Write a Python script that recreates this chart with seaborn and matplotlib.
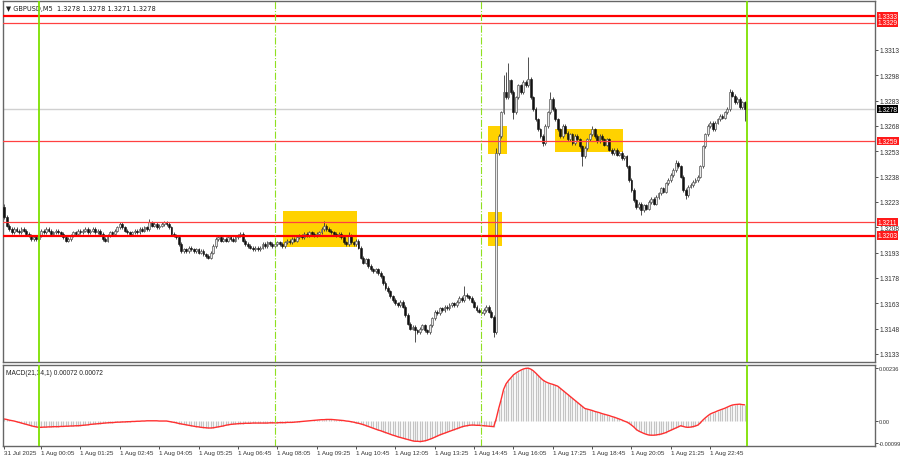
import numpy as np
import pandas as pd
import matplotlib
matplotlib.use("Agg")
import matplotlib.pyplot as plt
import matplotlib.transforms as mtransforms
import seaborn as sns

# GBPUSD M5, closes in pips above 1.3000, one value per bar (31 Jul 22:50 .. 1 Aug 23:55)
closes = [
    214, 209, 207, 205, 207, 206, 205, 207, 206, 204, 203, 201, 202, 201,
    203, 206, 205, 207, 206, 204, 205, 206, 205, 204, 202, 200, 201, 203, 205, 204,
    206, 205, 206, 207, 205, 206, 207, 205, 206, 204, 201, 200, 203, 205, 204,
    206, 208, 210, 208, 206, 205, 204, 205, 206, 205, 207, 206, 208, 207,
    211, 209, 210, 208, 209, 210, 211, 210, 208, 204, 203, 202,
    198, 194, 195, 194, 196, 195, 194, 195, 193, 194, 192, 191, 190, 193, 197, 201, 202, 200,
    201, 200, 202, 201, 200, 202, 203, 204, 200, 198, 197, 196, 195, 196, 195, 196,
    198, 197, 199, 198, 197, 198, 199, 198, 197, 199, 200, 199, 201, 200, 202, 203, 202,
    204, 203, 205, 204, 203, 204, 205, 207, 209, 207, 206, 205, 204, 203, 204, 202, 199, 198, 203, 199, 198, 200,
    196, 190, 187, 189, 185, 183, 182, 183, 181, 179, 175, 172, 170, 167, 165, 163, 162, 164, 161,
    156, 151, 148, 149, 147, 146, 148, 150, 147, 146, 150, 154, 158, 157, 160, 159,
    161, 160, 162, 163, 162, 164, 166, 165, 168, 167, 166, 164, 161, 159, 158, 157, 159, 161, 158, 155, 146,
    252, 262, 276, 288, 285, 295, 288, 276, 285, 292, 288, 294, 292, 296, 285, 278, 272, 266, 262, 258,
    268, 276, 284, 278, 272, 266, 262, 268, 264, 260, 263, 258, 262, 260, 256, 250, 255, 260, 263, 266,
    262, 259, 262, 260, 257, 260, 254, 252, 254, 251, 252, 249, 250, 244, 236, 230, 224, 220, 222, 218,
    221, 219, 223, 225, 222, 226, 228, 231, 229, 234, 236, 239, 242, 246, 244, 238, 230, 227, 232, 233, 235, 236, 238,
    244, 256, 263, 268, 270, 266, 270, 272, 274, 273, 276, 278, 288, 286, 282, 284, 279, 282, 278,
]
first_open = 220
# bars whose wicks stick out further (pips above 1.3000)
high_spikes = {0: 222, 47: 211, 59: 213, 66: 212, 130: 212, 140: 205, 187: 173,
               200: 255, 203: 298, 204: 300, 205: 305, 213: 309, 222: 288,
               239: 268, 273: 248, 295: 290}
low_spikes = {83: 189, 167: 140, 199: 143, 207: 272, 219: 256, 235: 244,
              259: 215, 277: 225, 301: 271}

# MACD(21,34,1) per bar, units of 0.00001
macd = [
    9, 7, 4, 2, 0, -3, -6, -9, -12, -15, -18, -21, -24, -26, -28,
    -28, -27, -27, -26, -26, -25, -25, -25, -24, -24, -23, -23, -22, -22, -21, -21,
    -20, -19, -18, -17, -15, -14, -13, -12, -11, -10, -9, -8, -7, -7, -6,
    -5, -5, -4, -4, -3, -3, -2, -2, -1, -1, 0, 0,
    1, 1, 1, 1, 1, 0, 0, 0, 0,
    -2, -4, -6, -8, -11, -13, -15, -17, -19, -21, -23, -25, -26, -28, -29, -30, -31, -31,
    -30, -28, -26, -24, -22, -19, -17, -15, -14, -13, -12, -11, -11, -10,
    -10, -10, -9, -9, -9, -9, -9, -9, -9, -8, -8, -8, -8, -7, -7, -7, -6, -6, -6,
    -5, -4, -3, -2, -1, 0, 1, 2, 3, 4, 5, 6, 6, 7, 7, 7,
    6, 5, 4, 3, 2, 0, -1, -3, -5, -8, -10, -13,
    -16, -20, -24, -28, -32, -36, -40, -43, -47, -51, -55, -59, -63, -66, -70, -73, -76, -79, -82, -85, -88, -90,
    -90, -91, -90, -88, -85, -81, -77, -72, -67, -62, -58,
    -54, -50, -46, -42, -38, -34, -30, -26,
    -23, -21, -19, -18, -18, -19, -19, -20, -21, -22, -23, -24, -25,
    10, 55, 95, 140, 165, 180, 192, 205, 213, 220, 226, 231, 234, 235,
    231, 224, 214, 203, 192, 182, 175, 170, 166, 163, 159, 155,
    146, 137, 128, 119, 110, 101, 92, 83, 74, 65, 56, 53, 50, 47,
    43, 40, 37, 33, 30, 27, 24, 20, 17, 13, 9, 5, 0, -4, -10,
    -18, -27, -38, -45, -50, -55, -59, -62, -63, -63, -62, -60, -58,
    -55, -51, -46, -41, -36, -31, -26, -21, -24, -27, -28, -27, -25, -22, -18,
    -8, 4, 14, 23, 31, 36, 40, 45, 49, 53, 57, 62, 67, 71, 73, 74, 75, 73, 72,
]

levels_thick = [1.3333, 1.3203]
levels_thin = [1.3329, 1.3259, 1.3211]
price_now = 1.3278
price_ticks = [1.3313, 1.3298, 1.3283, 1.3268, 1.3253, 1.3238, 1.3223, 1.3208,
               1.3193, 1.3178, 1.3163, 1.3148, 1.3133]
macd_ticks = [0.00236, 0.0, -0.00099]
macd_tick_labels = ["0.00236", "0.00", "-0.00099"]
time_bars = [0, 15, 31, 47, 63, 79, 95, 111, 127, 143, 159, 175, 191, 207, 223, 239, 255, 271, 287]
time_labels = ["31 Jul 2025", "1 Aug 00:05", "1 Aug 01:25", "1 Aug 02:45", "1 Aug 04:05",
               "1 Aug 05:25", "1 Aug 06:45", "1 Aug 08:05", "1 Aug 09:25", "1 Aug 10:45",
               "1 Aug 12:05", "1 Aug 13:25", "1 Aug 14:45", "1 Aug 16:05", "1 Aug 17:25",
               "1 Aug 18:45", "1 Aug 20:05", "1 Aug 21:25", "1 Aug 22:45"]
day_bars = [14, 302]
session_bars = [110, 194]
# highlighted zones: (bar from, bar to, price low, price high)
zones = [(113.4, 143.5, 1.31963, 1.32176),
         (196.7, 204.5, 1.32514, 1.32680),
         (196.7, 202.4, 1.31969, 1.32170),
         (224.0, 251.6, 1.32526, 1.32662)]

sns.set_style("white")
plt.rcParams["font.family"] = ["Liberation Sans", "DejaVu Sans"]

c = np.array(closes) / 10000 + 1.3
o = np.concatenate([[first_open / 10000 + 1.3], c[:-1]])
h = np.maximum(o, c) + 0.0001
l = np.minimum(o, c) - 0.0001
for k, v in high_spikes.items():
    h[k] = v / 10000 + 1.3
for k, v in low_spikes.items():
    l[k] = v / 10000 + 1.3
df = pd.DataFrame({"open": o, "high": h, "low": l, "close": c})
df["bar"] = np.arange(len(df))
md = pd.DataFrame({"bar": np.arange(len(macd)), "macd": np.array(macd) / 100000})

fig = plt.figure(figsize=(9, 4.6), dpi=100)
ax = fig.add_axes([3 / 900, 97 / 460, 872 / 900, 361 / 460])
ax2 = fig.add_axes([3 / 900, 13 / 460, 872 / 900, 81 / 460])

# zones under candles
for x0, x1, y0, y1 in zones:
    ax.fill_between([x0, x1], y0, y1, color="#ffd200", lw=0, zorder=1)

ax.axhline(price_now, color="#d0d0d0", lw=1, zorder=1.5)
for lv in levels_thin:
    ax.axhline(lv, color="#ff4040", lw=0.9, zorder=4)
for lv in levels_thick:
    ax.axhline(lv, color="#ff0000", lw=1.6, zorder=4)

# candles
bull = df[df.close >= df.open]
bear = df[df.close < df.open]
ax.vlines(df.bar, df.low, df.high, color="#333333", lw=0.6, zorder=2)
ax.bar(bull.bar, np.maximum(bull.close - bull.open, 0.00003), bottom=bull.open, width=0.75,
       color="#e8e8e8", edgecolor="#5a5a5a", linewidth=0.5, zorder=3)
ax.bar(bear.bar, bear.open - bear.close, bottom=bear.close, width=0.75,
       color="#111111", edgecolor="#111111", linewidth=0.4, zorder=3)

# MACD panel
ax2.vlines(md.bar, 0, md.macd, color="#c4c4c4", lw=0.9)
sns.lineplot(data=md, x="bar", y="macd", ax=ax2, color="#ff3030", lw=1)

for a in (ax, ax2):
    for b in day_bars:
        a.axvline(b, color="#7ee000", lw=1.3, zorder=5)
    for b in session_bars:
        a.axvline(b, color="#8fe020", lw=0.8, ls="-.", zorder=5)
    a.set_xlim(-0.5, 354)
    for s in a.spines.values():
        s.set_color("#666666")
        s.set_linewidth(1)
    a.set_xlabel("")
    a.set_ylabel("")

ax.set_ylim(1.31282, 1.33420)
ax.yaxis.tick_right()
ax.set_yticks(price_ticks)
ax.set_yticklabels([f"{t:.4f}" for t in price_ticks])
ax.set_xticks([])
ax.tick_params(axis="y", labelsize=4.8, length=2, width=0.6, colors="#333333", pad=1, right=True)

ax2.set_ylim(-0.00111, 0.00249)
ax2.yaxis.tick_right()
ax2.set_yticks(macd_ticks)
ax2.set_yticklabels(macd_tick_labels)
ax2.tick_params(axis="y", labelsize=4.1, length=2, width=0.6, colors="#333333", pad=1, right=True)
ax2.set_xticks(time_bars)
ax2.set_xticklabels(time_labels, ha="left")
ax2.tick_params(axis="x", labelsize=4.5, length=2, width=0.6, colors="#333333", pad=1, bottom=True)

# price tags on the right scale
tr = mtransforms.blended_transform_factory(ax.transAxes, ax.transData)
for lv in levels_thin + levels_thick:
    ax.text(1.003, lv, f"{lv:.4f}", transform=tr, fontsize=4.8, color="white", va="center",
            ha="left", bbox=dict(boxstyle="square,pad=0.12", fc="#ff1a1a", ec="none"), zorder=6,
            clip_on=False)
ax.text(1.003, price_now, f"{price_now:.4f}", transform=tr, fontsize=4.8, color="white",
        va="center", ha="left", bbox=dict(boxstyle="square,pad=0.12", fc="black", ec="none"),
        zorder=6, clip_on=False)

ax.text(0.004, 0.99, "\u25bc GBPUSD,M5  1.3278 1.3278 1.3271 1.3278", transform=ax.transAxes,
        fontsize=4.8, color="#222222", va="top", ha="left", family=["DejaVu Sans"])
ax2.text(0.004, 0.95, "MACD(21,34,1) 0.00072 0.00072", transform=ax2.transAxes,
         fontsize=4.8, color="#222222", va="top", ha="left")

fig.savefig("out.png", dpi=100)
